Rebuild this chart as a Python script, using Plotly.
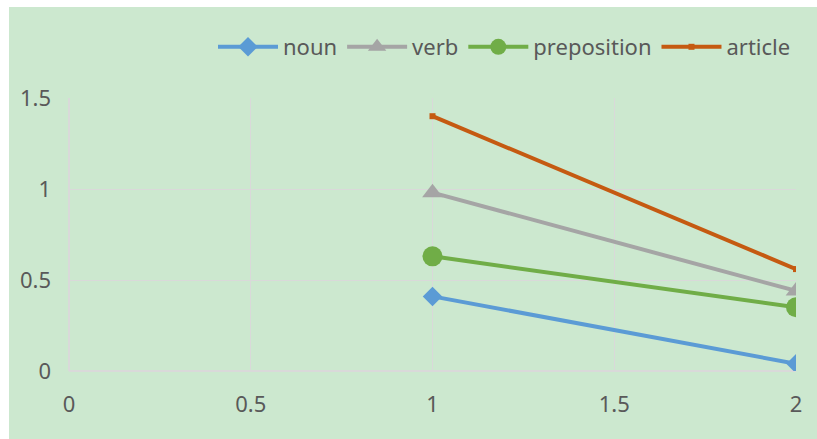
import plotly.graph_objects as go

# Word-class measurements at two positions
x_vals = [1, 2]
noun = [0.41, 0.04]
verb = [0.98, 0.44]
preposition = [0.63, 0.35]
article = [1.40, 0.56]

series = [
    ("noun", noun, "#5B9BD5", dict(symbol="diamond", size=15)),
    ("verb", verb, "#A5A5A5", dict(symbol="triangle-up", size=18)),
    ("preposition", preposition, "#70AD47", dict(symbol="circle", size=20)),
    ("article", article, "#C55A11", dict(symbol="square", size=6)),
]

fig = go.Figure()
for name, vals, color, mk in series:
    fig.add_trace(go.Scatter(
        x=x_vals, y=vals, name=name, mode="lines+markers",
        line=dict(color=color, width=4),
        marker=dict(color=color, line=dict(width=0), **mk),
    ))

L, R, T, B = 69, 21, 98, 68
W, H = 817, 439
pw, ph = W - L - R, H - T - B

# green chart background, leaving a thin white strip at the top and left
fig.add_shape(
    type="rect", xref="paper", yref="paper", layer="below",
    x0=(9 - L) / pw, x1=(W - L) / pw + 0.01,
    y0=-(B + 5) / ph, y1=(H - B - 7) / ph,
    fillcolor="#CCE8CF", line=dict(width=0),
)

grid = "#D9D9D9"
font_col = "#595959"
fig.update_layout(
    width=W, height=H,
    margin=dict(l=L, r=R, t=T, b=B, pad=0),
    paper_bgcolor="white",
    plot_bgcolor="rgba(0,0,0,0)",
    font=dict(family="Noto Sans, Open Sans, sans-serif", size=22, color=font_col),
    showlegend=True,
    legend=dict(
        orientation="h", x=1.0, xanchor="right", y=(H - B - 47) / ph, yanchor="middle",
        bgcolor="rgba(0,0,0,0)", font=dict(size=22, color=font_col),
        itemwidth=60, tracegroupgap=0,
    ),
    xaxis=dict(
        range=[0, 2], dtick=0.5, tick0=0, showgrid=True, gridcolor=grid, gridwidth=1,
        zeroline=True, zerolinecolor=grid, showline=False, ticks="",
        ticklabelstandoff=18, tickformat="~g", tickfont=dict(size=22),
    ),
    yaxis=dict(
        range=[0, 1.5], dtick=0.5, tick0=0, showgrid=True, gridcolor=grid, gridwidth=1,
        zeroline=True, zerolinecolor=grid, showline=False, ticks="",
        ticklabelstandoff=17, tickformat="~g", tickfont=dict(size=22),
    ),
)

fig.write_html("out.html")
